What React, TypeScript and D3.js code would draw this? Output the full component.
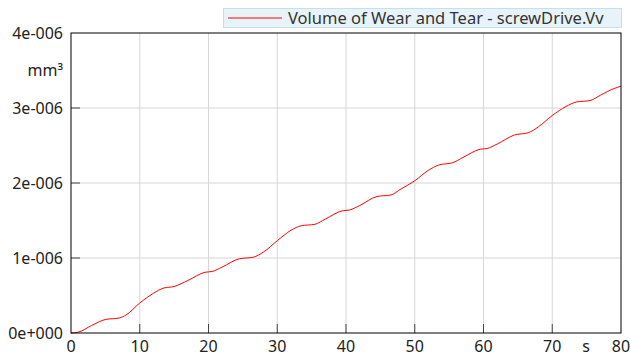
import React from "react";
import * as d3 from "d3";

// time in s
const times = [
  0, 1, 3, 5, 7, 8, 10, 12, 13.5, 15, 17, 19.5, 20.5, 22, 24.5, 26.5, 28, 30,
  32, 33.5, 35.5, 37, 39.5, 40.5, 42, 44.5, 46.5, 48, 50, 52, 53.5, 55.5, 57,
  59.5, 60.5, 62, 64.5, 66.5, 68, 70, 72, 73.5, 75.5, 77, 79, 80,
];
// volume of wear and tear, in 1e-6 mm³
const volume = [
  0, 0.01, 0.1, 0.18, 0.2, 0.24, 0.4, 0.53, 0.6, 0.62, 0.7, 0.81, 0.82, 0.88,
  0.99, 1.01, 1.08, 1.23, 1.37, 1.43, 1.45, 1.52, 1.63, 1.64, 1.7, 1.82, 1.84,
  1.92, 2.03, 2.17, 2.24, 2.27, 2.34, 2.45, 2.46, 2.52, 2.64, 2.67, 2.75, 2.9,
  3.02, 3.08, 3.1, 3.17, 3.26, 3.29,
];
const xTicks = [0, 10, 20, 30, 40, 50, 60, 70, 80];
const yTicks = [0, 1, 2, 3, 4];
const yTickLabels = ["0e+000", "1e-006", "2e-006", "3e-006", "4e-006"];
const seriesName = "Volume of Wear and Tear - screwDrive.Vv";

const W = 630;
const H = 363;
const m = { left: 71, right: 9, top: 33, bottom: 30 };
const font = "'Noto Sans', 'Open Sans', sans-serif";

export default function App() {
  const x = d3.scaleLinear().domain([0, 80]).range([m.left, W - m.right]);
  const y = d3.scaleLinear().domain([0, 4]).range([H - m.bottom, m.top]);
  const pts = times.map((t, i) => [t, volume[i]] as [number, number]);
  const line = d3
    .line<[number, number]>()
    .x((d) => x(d[0]))
    .y((d) => y(d[1]))
    .curve(d3.curveMonotoneX);

  const x0 = m.left;
  const x1 = W - m.right;
  const y0 = H - m.bottom;
  const y1 = m.top;

  return (
    <div style={{ position: "fixed", left: 0, top: 0 }}>
      <svg width={W} height={H} style={{ display: "block", background: "#fff" }}>
        {/* grid */}
        {xTicks.slice(1, -1).map((t) => (
          <line key={"gx" + t} x1={x(t)} x2={x(t)} y1={y1} y2={y0} stroke="#d6d6d6" />
        ))}
        {yTicks.slice(1, -1).map((t) => (
          <line key={"gy" + t} x1={x0} x2={x1} y1={y(t)} y2={y(t)} stroke="#d6d6d6" />
        ))}
        {/* inner ticks */}
        {xTicks.slice(1, -1).map((t) => (
          <line key={"tx" + t} x1={x(t)} x2={x(t)} y1={y0} y2={y0 - 9} stroke="#444" />
        ))}
        {yTicks.slice(1, -1).map((t) => (
          <line key={"ty" + t} x1={x0} x2={x0 + 9} y1={y(t)} y2={y(t)} stroke="#444" />
        ))}
        <path d={line(pts) || ""} fill="none" stroke="#ff0000" strokeWidth={1} />
        <rect x={x0} y={y1} width={x1 - x0} height={y0 - y1} fill="none" stroke="#000" />

        {/* labels */}
        <g fontFamily={font} fontSize={16} fill="#222">
          {xTicks.map((t) => (
            <text key={"lx" + t} x={x(t)} y={y0 + 19} textAnchor="middle">
              {t}
            </text>
          ))}
          {yTicks.map((t, i) => (
            <text key={"ly" + t} x={x0 - 8} y={y(t) + 6} textAnchor="end">
              {yTickLabels[i]}
            </text>
          ))}
          <text x={586} y={y0 + 19} textAnchor="middle">s</text>
          <text x={x0 - 8} y={76} textAnchor="end">mm³</text>
        </g>

        {/* legend */}
        <rect x={223.5} y={8.5} width={398} height={19} fill="#e8f3f9" stroke="#c4e0ee" />
        <line x1={228} x2={282} y1={18} y2={18} stroke="#ff0000" />
        <text x={288} y={23.5} fontFamily={font} fontSize={16.5} fill="#333">
          {seriesName}
        </text>
      </svg>
    </div>
  );
}
